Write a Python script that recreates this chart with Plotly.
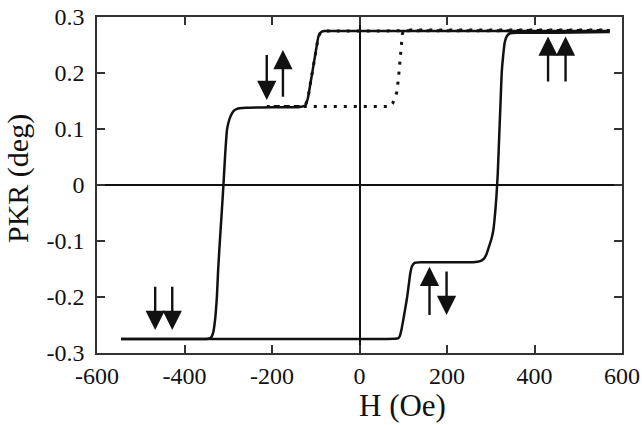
import plotly.graph_objects as go

# ---- data (H in Oe, PKR in deg) ----
desc_H = [572, 400, 200, 0, -80, -86, -90, -94, -100, -106, -112, -118, -124, -140, -200,
          -260, -280, -288, -294, -299, -303, -307, -311, -315, -319, -323, -326, -330,
          -334, -338, -343, -350, -400, -545]
desc_v = [0.275, 0.275, 0.275, 0.275, 0.275, 0.274, 0.271, 0.265, 0.238, 0.21, 0.182, 0.155,
          0.142, 0.139, 0.139, 0.138, 0.136, 0.132, 0.124, 0.113, 0.098, 0.055, 0.0, -0.05,
          -0.098, -0.15, -0.2, -0.24, -0.262, -0.271, -0.274, -0.275, -0.275, -0.275]

asc_H = [-545, -400, -200, 0, 60, 88, 92, 96, 100, 104, 108, 112, 116, 120, 126, 140, 200,
         260, 276, 284, 290, 296, 302, 306, 310, 313, 316, 319, 322, 325, 328, 332, 337,
         344, 360, 450, 572]
asc_v = [-0.275, -0.275, -0.275, -0.275, -0.275, -0.274, -0.27, -0.258, -0.241, -0.223,
         -0.205, -0.182, -0.158, -0.145, -0.139, -0.138, -0.138, -0.138, -0.136, -0.132,
         -0.124, -0.11, -0.095, -0.08, -0.05, -0.02, 0.02, 0.08, 0.14, 0.2, 0.228, 0.255,
         0.266, 0.271, 0.272, 0.272, 0.273]

minor_H = [572, 400, 200, 0, -80, -86, -90, -94, -100, -106, -112, -118, -124, -140, -212,
           -140, -60, 0, 50, 70, 76, 81, 85, 89, 92.6, 95, 98, 102, 120, 200, 400, 572]
minor_v = [0.276, 0.276, 0.275, 0.275, 0.275, 0.274, 0.271, 0.265, 0.238, 0.21, 0.182, 0.155,
           0.142, 0.14, 0.14, 0.14, 0.139, 0.139, 0.139, 0.14, 0.146, 0.155, 0.165, 0.19,
           0.226, 0.256, 0.27, 0.276, 0.277, 0.277, 0.277, 0.277]

# arrows: field position, tail value, tip value
arrow_H = [-212, -175, 431, 471, -467, -428, 160, 199]
arrow_tail = [0.235, 0.155, 0.182, 0.182, -0.179, -0.179, -0.235, -0.152]
arrow_tip = [0.152, 0.241, 0.265, 0.265, -0.259, -0.259, -0.146, -0.232]

x_ticks = [-600, -400, -200, 0, 200, 400, 600]
x_labels = ["-600", "-400", "-200", "0", "200", "400", "600"]
y_ticks = [-0.3, -0.2, -0.1, 0, 0.1, 0.2, 0.3]
y_labels = ["-0.3", "-0.2", "-0.1", "0", "0.1", "0.2", "0.3"]

FONT = "Liberation Serif, Times New Roman, serif"
INK = "#111111"

fig = go.Figure()
fig.add_trace(go.Scatter(x=minor_H, y=minor_v, mode="lines",
                         line=dict(color=INK, width=3, dash="3px,7px"),
                         hoverinfo="skip"))
fig.add_trace(go.Scatter(x=desc_H, y=desc_v, mode="lines",
                         line=dict(color=INK, width=2.5, shape="spline", smoothing=0.4),
                         hoverinfo="skip"))
fig.add_trace(go.Scatter(x=asc_H, y=asc_v, mode="lines",
                         line=dict(color=INK, width=2.5, shape="spline", smoothing=0.4),
                         hoverinfo="skip"))

annotations = []
for h, t0, t1 in zip(arrow_H, arrow_tail, arrow_tip):
    annotations.append(dict(x=h, y=t1, ax=h, ay=t0, xref="x", yref="y",
                            axref="x", ayref="y", text="", showarrow=True,
                            arrowhead=2, arrowsize=1.6, arrowwidth=2.4,
                            arrowcolor=INK, standoff=0, startstandoff=0))

annotations.append(dict(text="H (Oe)", xref="paper", yref="paper",
                        x=(402.5 - 97) / 525, y=0, yshift=-52,
                        xanchor="center", yanchor="middle", showarrow=False,
                        font=dict(family=FONT, size=31, color=INK)))
annotations.append(dict(text="PKR (deg)", xref="paper", yref="paper",
                        x=0, xshift=-79, y=(353 - 179) / 336,
                        xanchor="center", yanchor="middle", textangle=-90,
                        showarrow=False,
                        font=dict(family=FONT, size=30, color=INK)))

axis_common = dict(showgrid=False, showline=True, linecolor="#333333", linewidth=1.5,
                   mirror="ticks", ticks="inside", ticklen=8, tickwidth=1.5,
                   tickcolor="#333333", zeroline=True, zerolinecolor=INK,
                   zerolinewidth=1.6, automargin=False, ticklabeloverflow="allow",
                   tickfont=dict(family=FONT, size=24, color=INK))

fig.update_layout(
    width=642, height=425,
    margin=dict(l=97, r=20, t=17, b=72),
    paper_bgcolor="white", plot_bgcolor="white",
    showlegend=False,
    font=dict(family=FONT),
    xaxis=dict(range=[-600, 600], tickvals=x_ticks, ticktext=x_labels, **axis_common),
    yaxis=dict(range=[-0.3, 0.3], tickvals=y_ticks, ticktext=y_labels,
               ticklabelstandoff=6, **axis_common),
    annotations=annotations,
)

fig.write_html("out.html")
